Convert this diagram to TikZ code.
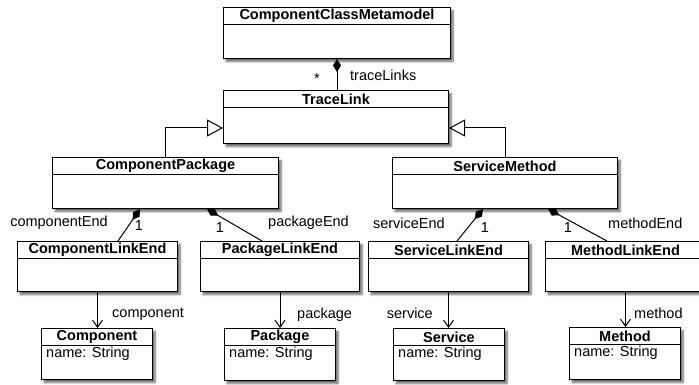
\documentclass[tikz,border=0pt]{standalone}
\usepackage{fontspec}
\setmainfont{Liberation Sans}
\usepackage{tikz}
\usetikzlibrary{positioning, arrows.meta, shadows, shadows.blur, calc}
\definecolor{LineColor}{RGB}{0,0,0}
\newcommand{\umlfont}{\fontsize{14.5pt}{17pt}\selectfont}
\tikzstyle{classbox} = [draw=LineColor, fill=white, line width=1pt, anchor=north west, inner sep=0pt, blur shadow={shadow xshift=2.5pt, shadow yshift=-3pt, shadow blur steps=6, shadow opacity=60}]
\tikzstyle{classhead} = [draw=LineColor, line width=1pt, anchor=north, inner sep=0pt, minimum height=17pt, font=\umlfont\bfseries]
\tikzstyle{attr} = [anchor=west, inner sep=0pt]
\tikzstyle{role} = [inner sep=0pt]
\tikzstyle{composition} = [line width=1pt, LineColor, {Diamond[length=13pt, width=8pt]}-]
\tikzstyle{generalization} = [line width=1pt, LineColor, -{Triangle[open, length=16pt, width=17pt, fill=white]}]
\tikzstyle{association} = [line width=1pt, LineColor, -{Straight Barb[length=7pt, width=10pt]}]

\begin{document}
\begin{tikzpicture}[x=1pt, y=-1pt, font=\umlfont]
      \useasboundingbox (0,0) rectangle (699,385);

      % Top level
      \node[classbox, minimum width=227pt, minimum height=51pt] (meta) at (223,7) {};
      \node[classhead, minimum width=227pt] (metahead) at (meta.north) {ComponentClassMetamodel};

      \node[classbox, minimum width=225pt, minimum height=53pt] (trace) at (223,90) {};
      \node[classhead, minimum width=225pt] (tracehead) at (trace.north) {TraceLink};

      % Subclasses
      \node[classbox, minimum width=226pt, minimum height=51pt] (compPkg) at (52,157) {};
      \node[classhead, minimum width=226pt] (compPkghead) at (compPkg.north) {ComponentPackage};

      \node[classbox, minimum width=225pt, minimum height=51pt] (servMeth) at (392,157) {};
      \node[classhead, minimum width=225pt] (servMethhead) at (servMeth.north) {ServiceMethod};

      % Link ends
      \node[classbox, minimum width=160pt, minimum height=50pt] (compLE) at (17,241) {};
      \node[classhead, minimum width=160pt] (compLEhead) at (compLE.north) {ComponentLinkEnd};

      \node[classbox, minimum width=159pt, minimum height=50pt] (pkgLE) at (200,241) {};
      \node[classhead, minimum width=159pt] (pkgLEhead) at (pkgLE.north) {PackageLinkEnd};

      \node[classbox, minimum width=160pt, minimum height=50pt] (servLE) at (368,241) {};
      \node[classhead, minimum width=160pt] (servLEhead) at (servLE.north) {ServiceLinkEnd};

      \node[classbox, minimum width=160pt, minimum height=50pt] (methLE) at (545,241) {};
      \node[classhead, minimum width=160pt] (methLEhead) at (methLE.north) {MethodLinkEnd};

      % Targets
      \node[classbox, minimum width=111pt, minimum height=51pt] (component) at (41,328) {};
      \node[classhead, minimum width=111pt] (componenthead) at (component.north) {Component};
      \node[attr] (componentattr) at ([xshift=5pt, yshift=-8pt]componenthead.south west) {name: String};

      \node[classbox, minimum width=111pt, minimum height=52pt] (package) at (224,328) {};
      \node[classhead, minimum width=111pt] (packagehead) at (package.north) {Package};
      \node[attr] (packageattr) at ([xshift=5pt, yshift=-8pt]packagehead.south west) {name: String};

      \node[classbox, minimum width=111pt, minimum height=52pt] (service) at (393,328) {};
      \node[classhead, minimum width=111pt] (servicehead) at (service.north) {Service};
      \node[attr] (serviceattr) at ([xshift=5pt, yshift=-8pt]servicehead.south west) {name: String};

      \node[classbox, minimum width=111pt, minimum height=52pt] (method) at (569,327) {};
      \node[classhead, minimum width=111pt] (methodhead) at (method.north) {Method};
      \node[attr] (methodattr) at ([xshift=5pt, yshift=-8pt]methodhead.south west) {name: String};

      % Connections
      \draw[composition] (meta.south) -- (meta.south |- trace.north);
      \draw[generalization] (compPkg.north) |- ([yshift=16pt]trace.south west);
      \draw[generalization] (servMeth.north) |- ([yshift=16pt]trace.south east);
      \draw[composition] ([xshift=88pt]compPkg.south west) -- ([xshift=101pt]compLE.north west);
      \draw[composition] ([xshift=155pt]compPkg.south west) -- ([xshift=62pt]pkgLE.north west);
      \draw[composition] ([xshift=91pt]servMeth.south west) -- ([xshift=89pt]servLE.north west);
      \draw[composition] ([xshift=156pt]servMeth.south west) -- ([xshift=62pt]methLE.north west);
      \draw[association] (compLE.south) -- (compLE.south |- component.north);
      \draw[association] (pkgLE.south) -- (pkgLE.south |- package.north);
      \draw[association] (servLE.south) -- (servLE.south |- service.north);
      \draw[association] (methLE.south) -- (methLE.south |- method.north);

      % Role names
      \node[role] (tracestar) at (317,79) {*};
      \node[role, anchor=west] (tracerole) at (350,75) {traceLinks};
      \node[role, anchor=east] (comprole) at (108,223) {componentEnd};
      \node[role] (compmult) at (139,226) {1};
      \node[role] (pkgmult) at (220,228) {1};
      \node[role, anchor=west] (pkgrole) at (268,223) {packageEnd};
      \node[role, anchor=east] (servrole) at (445,223) {serviceEnd};
      \node[role] (servmult) at (485,228) {1};
      \node[role] (methmult) at (568,228) {1};
      \node[role, anchor=west] (methrole) at (608,223) {methodEnd};
      \node[role, anchor=west] (componentrole) at (112,314) {component};
      \node[role, anchor=west] (packagerole) at (297,315) {package};
      \node[role, anchor=east] (servicerole) at (433,313) {service};
      \node[role, anchor=west] (methodrole) at (634,313) {method};
\end{tikzpicture}
\end{document}
